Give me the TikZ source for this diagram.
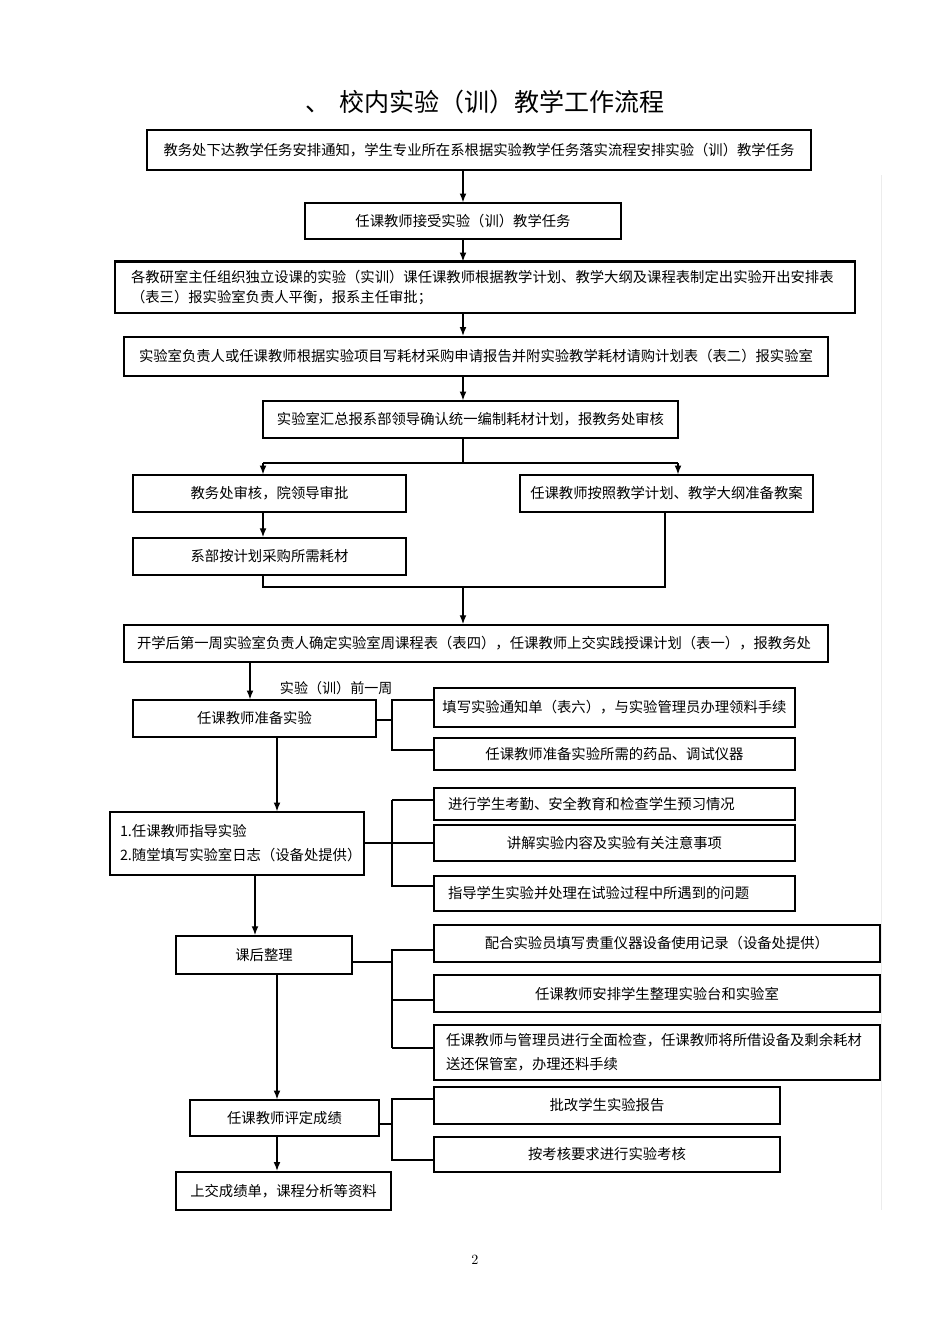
\documentclass[tikz,border=0pt]{standalone}
\usepackage{fontspec}
\usepackage{tikz}
\usetikzlibrary{arrows.meta}
\newfontfamily\cjk{Noto Sans CJK SC}
\tikzset{>={Latex[length=2.2mm,width=1.7mm]}, every edge/.style={draw,
		->,line width=0.9pt}}
\tikzstyle{task}=[rectangle,draw=black,line width=0.9pt,inner sep=0pt,font=\cjk\fontsize{10.2pt}{15pt}\selectfont]
\tikzstyle{taskheavy}=[task,line width=1.6pt]
\tikzstyle{taskleft}=[align=left,inner xsep=0.35cm]
\tikzstyle{fork}=[line width=0.9pt]
\tikzstyle{forkheavy}=[line width=1.7pt]
\tikzstyle{title}=[font=\cjk\fontsize{17.8pt}{20pt}\selectfont]

\begin{document}
\begin{tikzpicture}
	\useasboundingbox (0,0) rectangle (23.75,-33.6);
	\draw[gray!15,line width=0.6pt] (22.025,-4.375) -- (22.025,-30.25);
	\node at (12.125,-2.55) [title] (t) {、\,\,校内实验（训）教学工作流程};
	\node at (11.975,-3.75) [task,line width=1.3pt,minimum width=16.6cm,minimum height=1cm] (1) {教务处下达教学任务安排通知，学生专业所在系根据实验教学任务落实流程安排实验（训）教学任务};
	\node at (11.575,-5.525) [task,minimum width=7.9cm,minimum height=0.9cm] (2) {任课教师接受实验（训）教学任务};
	\node at (12.125,-7.1875) [task,taskleft,inner xsep=0.4cm,text width=17.7cm,minimum height=1.275cm,font=\cjk\fontsize{10.2pt}{14.9pt}\selectfont] (3) {各教研室主任组织独立设课的实验（实训）课任课教师根据教学计划、教学大纲及课程表制定出实验开出安排表\\（表三）报实验室负责人平衡，报系主任审批；};
	\draw[line width=1.8pt] (3.north west) -- (3.north east);
	\node at (11.9,-8.9125) [taskheavy,minimum width=17.6cm,minimum height=0.975cm] (4) {实验室负责人或任课教师根据实验项目写耗材采购申请报告并附实验教学耗材请购计划表（表二）报实验室};
	\node at (11.7625,-10.4875) [task,minimum width=10.375cm,minimum height=0.925cm] (5) {实验室汇总报系部领导确认统一编制耗材计划，报教务处审核};
	\node at (6.7375,-12.3375) [task,minimum width=6.825cm,minimum height=0.925cm] (6) {教务处审核，院领导审批};
	\node at (16.6625,-12.3375) [task,minimum width=7.325cm,minimum height=0.925cm] (7) {任课教师按照教学计划、教学大纲准备教案};
	\node at (6.7375,-13.9125) [task,line width=1.2pt,minimum width=6.825cm,minimum height=0.925cm] (8) {系部按计划采购所需耗材};
	\node at (11.9,-16.0875) [task,taskleft,line width=1.3pt,inner xsep=0.325cm,text width=16.95cm,minimum height=0.925cm] (9) {开学后第一周实验室负责人确定实验室周课程表（表四），任课教师上交实践授课计划（表一），报教务处};
	\node at (6.875,-17.2) [anchor=west,font=\cjk\fontsize{10pt}{12pt}\selectfont] (l) {实验（训）前一周};
	\node at (6.3625,-17.9625) [task,minimum width=6.075cm,minimum height=0.925cm] (10) {任课教师准备实验};
	\node at (15.3625,-17.6875) [task,line width=1.2pt,minimum width=9.025cm,minimum height=0.975cm] (11) {填写实验通知单（表六），与实验管理员办理领料手续};
	\node at (15.3625,-18.85) [task,line width=1.2pt,minimum width=9.025cm,minimum height=0.8cm] (12) {任课教师准备实验所需的药品、调试仪器};
	\node at (5.925,-21.0875) [task,taskleft,inner xsep=0.25cm,text width=5.85cm,minimum height=1.575cm,font=\cjk\fontsize{10.2pt}{17pt}\selectfont] (13) {1.任课教师指导实验\\2.随堂填写实验室日志（设备处提供）};
	\node at (15.3625,-20.1) [task,taskleft,text width=8.325cm,minimum height=0.8cm] (14) {进行学生考勤、安全教育和检查学生预习情况};
	\node at (15.3625,-21.075) [task,minimum width=9.025cm,minimum height=0.9cm] (15) {讲解实验内容及实验有关注意事项};
	\node at (15.3625,-22.3375) [task,taskleft,text width=8.325cm,minimum height=0.875cm] (16) {指导学生实验并处理在试验过程中所遇到的问题};
	\node at (6.6,-23.875) [task,line width=1.3pt,minimum width=4.4cm,minimum height=0.95cm] (17) {课后整理};
	\node at (16.425,-23.5875) [taskheavy,minimum width=11.15cm,minimum height=0.925cm] (18) {配合实验员填写贵重仪器设备使用记录（设备处提供）};
	\node at (16.425,-24.8375) [task,line width=1.2pt,minimum width=11.15cm,minimum height=0.925cm] (19) {任课教师安排学生整理实验台和实验室};
	\node at (16.425,-26.3125) [taskheavy,taskleft,inner xsep=0.3cm,text width=10.55cm,minimum height=1.375cm,font=\cjk\fontsize{10.2pt}{17pt}\selectfont] (20) {任课教师与管理员进行全面检查，任课教师将所借设备及剩余耗材\\送还保管室，办理还料手续};
	\node at (7.1125,-27.95) [task,minimum width=4.725cm,minimum height=0.9cm] (21) {任课教师评定成绩};
	\node at (15.175,-27.6375) [taskheavy,minimum width=8.65cm,minimum height=0.925cm] (22) {批改学生实验报告};
	\node at (15.175,-28.8625) [taskheavy,minimum width=8.65cm,minimum height=0.875cm] (23) {按考核要求进行实验考核};
	\node at (7.0875,-29.775) [taskheavy,minimum width=5.375cm,minimum height=0.95cm] (24) {上交成绩单，课程分析等资料};
	\node at (11.875,-31.5) [font=\fontsize{10pt}{12pt}\selectfont] (pg) {2};
	% main column
	\coordinate (c) at (11.575,0);
	\coordinate (a) at (6.25,0);
	\coordinate (b) at (6.925,0);
	\coordinate (d) at (6.375,0);
	\draw (1.south -| c) edge (2.north -| c);
	\draw (2.south -| c) edge (3.north -| c);
	\draw (3.south -| c) edge (4.north -| c);
	\draw (4.south -| c) edge (5.north -| c);
	% split and join
	\coordinate (s) at (11.575,-11.575);
	\coordinate (sl) at (6.575,-11.575);
	\coordinate (sr) at (16.95,-11.575);
	\draw[fork] (5.south -| c) -- (s);
	\draw[forkheavy] (sl) -- (sr);
	\draw (sl) edge (6.north -| sl);
	\draw (sr) edge (7.north -| sr);
	\draw (6.south -| sl) edge (8.north -| sl);
	\coordinate (jl) at (6.575,-14.675);
	\coordinate (jr) at (16.625,-14.675);
	\draw[forkheavy] (8.south -| jl) -- (jl) -- (jr) -- (7.south -| jr);
	\draw (jl -| c) edge (9.north -| c);
	% lower part
	\draw (9.south -| a) edge (10.north -| a);
	\draw[fork] (10.east |- 0,-18.0) -- (9.8,-18.0);
	\draw[fork] (11.west |- 0,-17.5) -| (9.8,-18.75) -- (12.west |- 0,-18.75);
	\draw (10.south -| b) edge (13.north -| b);
	\draw[forkheavy] (13.east |- 0,-21.075) -- (9.8,-21.075) -- (15.west |- 0,-21.075);
	\draw[forkheavy] (14.west |- 0,-20.0) -- (9.8,-20.0);
	\draw[fork] (9.8,-20.0) -- (9.8,-22.15) -- (16.west |- 0,-22.15);
	\draw (13.south -| d) edge (17.north -| d);
	\draw[forkheavy] (17.east |- 0,-24.05) -- (9.8,-24.05);
	\draw[fork] (18.west |- 0,-23.75) -| (9.8,-26.2);
	\draw[fork] (9.8,-25.0) -- (19.west |- 0,-25.0);
	\draw[forkheavy] (9.8,-26.2) -- (20.west |- 0,-26.2);
	\draw (17.south -| b) edge (21.north -| b);
	\draw[fork] (21.east |- 0,-28.1) -- (9.8,-28.1);
	\draw[fork] (22.west |- 0,-27.475) -| (9.8,-29.0) -- (23.west |- 0,-29.0);
	\draw (21.south -| b) edge (24.north -| b);
\end{tikzpicture}
\end{document}
